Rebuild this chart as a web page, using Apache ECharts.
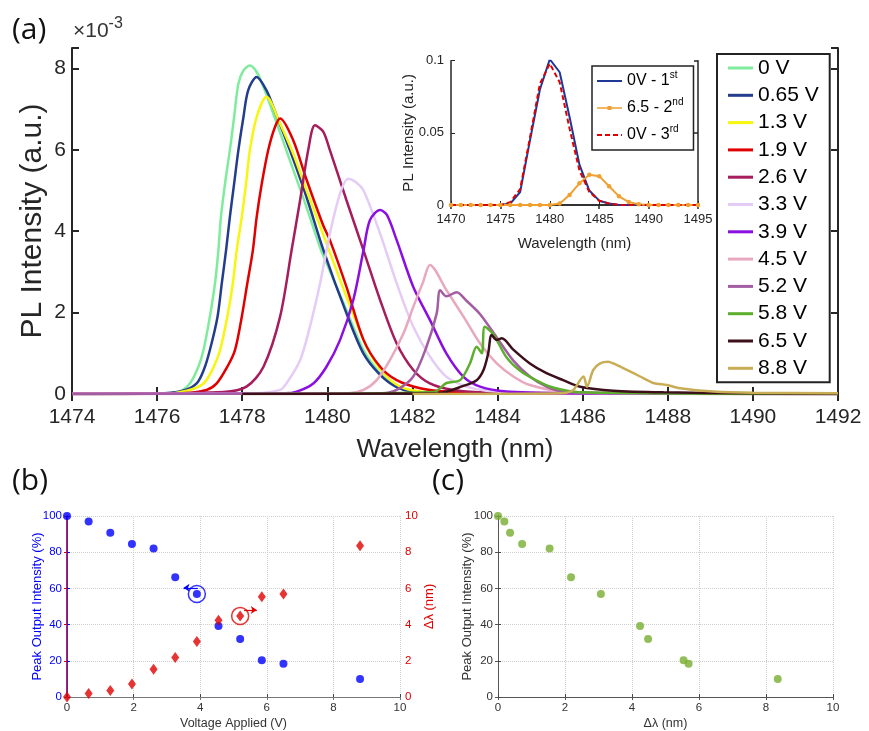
<!DOCTYPE html>
<html><head><meta charset="utf-8">
<script src="https://cdn.jsdelivr.net/npm/echarts@6/dist/echarts.min.js"></script>
<style>html,body{margin:0;padding:0;background:#fff}#c{width:869px;height:731px}</style>
</head><body><div id="c"></div>
<script>
// ---------- DATA ----------
// (a) main spectra: [wavelength (nm), PL intensity (x10^-3 a.u.)]
const voltageLabels = ['0 V','0.65 V','1.3 V','1.9 V','2.6 V','3.3 V','3.9 V','4.5 V','5.2 V','5.8 V','6.5 V','8.8 V'];
const pl_0V = [[1474,0],[1476,0.01],[1476.5,0.05],[1476.77,0.26],[1476.97,0.67],[1477.09,1.08],[1477.24,1.9],[1477.36,2.72],[1477.44,3.53],[1477.5,4.35],[1477.6,5.2],[1477.71,5.99],[1477.81,6.81],[1477.91,7.62],[1478.03,7.95],[1478.18,8.07],[1478.34,7.91],[1478.5,7.54],[1478.73,6.89],[1479.12,5.74],[1479.5,4.62],[1479.83,3.6],[1479.95,3.29],[1480.2,2.68],[1480.45,2.06],[1480.85,1.08],[1481.24,0.51],[1481.63,0.18],[1482.02,0.06],[1483,0.02],[1492,0]];
const pl_065V = [[1474,0],[1476,0.01],[1476.6,0.08],[1476.93,0.26],[1477.1,0.6],[1477.24,1.08],[1477.42,1.9],[1477.52,2.72],[1477.62,3.53],[1477.71,4.35],[1477.81,5.17],[1477.91,5.99],[1478.03,6.81],[1478.14,7.46],[1478.34,7.79],[1478.57,7.46],[1478.73,7.05],[1479.12,5.99],[1479.51,4.84],[1479.91,3.53],[1480.45,1.98],[1480.85,0.99],[1481.24,0.47],[1481.63,0.17],[1482.02,0.06],[1483,0.02],[1492,0]];
const pl_13V = [[1474,0],[1476.2,0.01],[1476.7,0.08],[1477.09,0.26],[1477.3,0.6],[1477.48,1.08],[1477.65,1.9],[1477.78,2.72],[1477.87,3.53],[1477.99,4.35],[1478.09,5.17],[1478.18,5.99],[1478.34,6.81],[1478.57,7.3],[1478.89,6.64],[1479.2,5.9],[1479.51,5.01],[1479.98,3.7],[1480.57,2.06],[1480.96,1.08],[1481.32,0.51],[1481.71,0.18],[1482.18,0.06],[1483,0.02],[1492,0]];
const pl_19V = [[1474,0],[1476.6,0.02],[1477.16,0.1],[1477.4,0.26],[1477.65,0.67],[1477.83,1.08],[1477.99,1.9],[1478.12,2.72],[1478.25,3.53],[1478.34,4.35],[1478.46,5.17],[1478.61,5.99],[1478.77,6.56],[1478.89,6.77],[1479.2,6.23],[1479.5,5.3],[1479.9,4.15],[1480.06,3.78],[1480.45,2.63],[1480.85,1.33],[1481.24,0.67],[1481.63,0.34],[1482.18,0.14],[1482.8,0.06],[1484,0.02],[1492,0]];
const pl_26V = [[1474,0],[1477.56,0.05],[1478.1,0.18],[1478.5,0.67],[1478.89,1.9],[1479.16,3.53],[1479.36,4.76],[1479.55,5.99],[1479.71,6.6],[1479.9,6.45],[1480.06,5.99],[1480.45,4.76],[1480.85,3.53],[1481.24,2.31],[1481.63,1.24],[1482.02,0.59],[1482.41,0.26],[1482.96,0.1],[1484,0.03],[1492,0]];
const pl_33V = [[1474,0],[1478.3,0.02],[1478.89,0.1],[1479.04,0.26],[1479.36,0.83],[1479.59,1.65],[1479.83,2.72],[1480.06,3.94],[1480.3,4.93],[1480.49,5.29],[1480.65,5.22],[1480.85,5.0],[1481.24,3.94],[1481.63,2.72],[1482.02,1.65],[1482.41,0.92],[1482.8,0.42],[1483.27,0.18],[1483.74,0.08],[1485,0.02],[1492,0]];
const pl_39V = [[1474,0],[1479.0,0.02],[1479.28,0.06],[1479.67,0.26],[1479.98,0.67],[1480.3,1.33],[1480.61,2.31],[1480.85,3.53],[1481.0,4.27],[1481.24,4.52],[1481.4,4.4],[1481.63,3.78],[1482.02,2.63],[1482.41,1.82],[1482.8,0.99],[1483.2,0.42],[1483.59,0.18],[1484.2,0.06],[1485.5,0.02],[1492,0]];
const pl_45V = [[1474,0],[1480.5,0.02],[1480.85,0.1],[1481.16,0.34],[1481.47,0.83],[1481.79,1.49],[1482.02,2.14],[1482.25,2.75],[1482.41,3.17],[1482.8,2.55],[1483.2,1.9],[1483.59,1.24],[1483.98,0.75],[1484.37,0.43],[1484.76,0.22],[1485.54,0.06],[1487,0.02],[1492,0]];
const pl_52V = [[1474,0],[1481.3,0.02],[1481.63,0.1],[1482.02,0.43],[1482.33,1.16],[1482.57,1.98],[1482.65,2.55],[1482.8,2.4],[1483.04,2.5],[1483.27,2.29],[1483.59,1.96],[1483.98,1.39],[1484.37,0.82],[1484.76,0.43],[1485.15,0.18],[1485.54,0.06],[1487,0.02],[1492,0]];
const pl_58V = [[1478,0],[1482.5,0.05],[1482.8,0.27],[1483.12,0.34],[1483.35,0.75],[1483.51,1.16],[1483.63,1.0],[1483.7,1.65],[1483.9,1.47],[1484.21,0.9],[1484.53,0.57],[1484.92,0.33],[1485.3,0.16],[1485.94,0.04],[1492,0]];
const pl_65V = [[1478,0],[1482.6,0.02],[1483.2,0.2],[1483.51,0.34],[1483.67,0.59],[1483.78,1.0],[1483.86,1.45],[1483.98,1.33],[1484.1,1.37],[1484.37,1.09],[1484.76,0.75],[1485.15,0.51],[1485.54,0.34],[1485.94,0.18],[1486.72,0.08],[1487.9,0.04],[1490,0.02],[1492,0.01]];
const pl_88V = [[1482,0],[1485.5,0.02],[1485.78,0.1],[1486.02,0.43],[1486.1,0.18],[1486.25,0.59],[1486.41,0.75],[1486.6,0.79],[1486.72,0.75],[1487.04,0.59],[1487.35,0.43],[1487.66,0.27],[1487.98,0.22],[1488.29,0.14],[1489.07,0.06],[1490,0.03],[1492,0.02]];

// (a) inset: PL intensity (a.u.) vs wavelength (nm)
const insetNames = ['0V - 1st','6.5 - 2nd','0V - 3rd'];
const insetWavelength = [1470,1471,1472,1473,1474,1475,1476,1477,1478,1479,1480,1481,1482,1483,1484,1485,1486,1487,1488,1489,1490,1491,1492,1493,1494,1495];
const inset_0V_1st = [0,0,0,0,0,0,0.001,0.009,0.045,0.08,0.101,0.092,0.061,0.028,0.01,0.003,0.001,0,0,0,0,0,0,0,0,0];
const inset_65_2nd = [0,0,0,0,0,0,0,0,0,0,0,0.001,0.007,0.015,0.021,0.02,0.013,0.006,0.002,0.0005,0,0,0,0,0,0];
const inset_0V_3rd = [0,0,0,0,0,0,0.002,0.011,0.047,0.084,0.098,0.085,0.053,0.024,0.009,0.003,0.001,0,0,0,0,0,0,0,0,0];

// (b), (c)
const voltageApplied = [0,0.65,1.3,1.95,2.6,3.25,3.9,4.55,5.2,5.85,6.5,8.8];
const peakOutput = [100,96.9,90.7,84.5,82.1,66.1,56.9,39.2,32.1,20.3,18.4,9.9];
const deltaLambda = [0,0.19,0.36,0.72,1.54,2.18,3.07,4.24,4.48,5.54,5.69,8.35];

// ---------- STYLE ----------
const FONT = 'Liberation Sans, Arial, Helvetica, sans-serif';
const mainColors = ['#7EEC9C','#243C8E','#F6F60E','#E00000','#A61C5C','#E4CCF6','#8A0FE0','#E8A8BF','#A35DA3','#5DAE2C','#3D0F1B','#C9AD55'];
const insetColors = ['#1F3796','#F0A030','#E00000'];
const insetIcons = [
  'path://M0,0M25,14M0,6H25V8H0Z',
  'path://M0,0M25,14M0,6.2H10.5V7.8H0ZM14.5,6.2H25V7.8H14.5ZM10.5,5H14.5V9H10.5Z',
  'path://M0,0M25,14M0,6H5V8H0ZM8,6H13V8H8ZM16,6H21V8H16ZM24,6H25V8H24Z'
];
const spectra = [pl_0V,pl_065V,pl_13V,pl_19V,pl_26V,pl_33V,pl_39V,pl_45V,pl_52V,pl_58V,pl_65V,pl_88V];
const BLUE = '#0000FF', RED = '#E00000', GREEN = '#77AC30', AX = '#262626';
const plain = v => String(v);

const zip = (a, b) => a.map((v, i) => [v, b[i]]);

const series = [];
voltageLabels.forEach((n, i) => {
  series.push({type:'line', name:n, xAxisIndex:0, yAxisIndex:0, data:spectra[i], showSymbol:false, symbol:'none',
    smooth:0.3, lineStyle:{width:2.5, color:mainColors[i]}, itemStyle:{color:mainColors[i]}, animation:false});
});
const insetData = [inset_0V_1st, inset_65_2nd, inset_0V_3rd];
insetNames.forEach((n, i) => {
  series.push({type:'line', name:n, xAxisIndex:2, yAxisIndex:2, data:zip(insetWavelength, insetData[i]),
    symbol: i === 1 ? 'circle' : 'none', showSymbol: i === 1, symbolSize:4.5,
    lineStyle:{width:2, color:insetColors[i], type: i === 2 ? [5,3] : 'solid'},
    itemStyle:{color:insetColors[i], borderWidth:0}, animation:false});
});
// (b)
series.push({type:'scatter', xAxisIndex:4, yAxisIndex:4, data:zip(voltageApplied, peakOutput), symbol:'circle', symbolSize:8,
  itemStyle:{color:BLUE}, animation:false});
series.push({type:'scatter', xAxisIndex:4, yAxisIndex:5, data:zip(voltageApplied, deltaLambda), symbol:'diamond', symbolSize:[8,11],
  itemStyle:{color:RED}, animation:false});
// annotation circles + arrows (b)
const bi = 6, ri = 8;
series.push({type:'scatter', xAxisIndex:4, yAxisIndex:4, data:[[voltageApplied[bi], peakOutput[bi]]], symbol:'circle', symbolSize:17,
  itemStyle:{color:'rgba(0,0,0,0)', borderColor:BLUE, borderWidth:1.5}, silent:true, animation:false,
  markLine:{silent:true, symbol:['none','arrow'], symbolSize:6, label:{show:false}, animation:false,
    lineStyle:{color:BLUE, width:1.2, type:'solid'},
    data:[[{coord:[voltageApplied[bi]+0.03, peakOutput[bi]+3.4]},{coord:[voltageApplied[bi]-0.4, peakOutput[bi]+3.4]}]]}});
series.push({type:'scatter', xAxisIndex:4, yAxisIndex:5, data:[[voltageApplied[ri], deltaLambda[ri]]], symbol:'circle', symbolSize:17,
  itemStyle:{color:'rgba(0,0,0,0)', borderColor:RED, borderWidth:1.5}, silent:true, animation:false,
  markLine:{silent:true, symbol:['none','arrow'], symbolSize:6, label:{show:false}, animation:false,
    lineStyle:{color:RED, width:1.2, type:'solid'},
    data:[[{coord:[voltageApplied[ri]+0.12, deltaLambda[ri]+0.32]},{coord:[voltageApplied[ri]+0.5, deltaLambda[ri]+0.32]}]]}});
// (c)
series.push({type:'scatter', xAxisIndex:6, yAxisIndex:6, data:zip(deltaLambda, peakOutput), symbol:'circle', symbolSize:8,
  itemStyle:{color:GREEN}, animation:false});

function mirrorX(grid, min, max, interval, color, w, tl) {
  return {type:'value', gridIndex:grid, position:'top', min, max, interval,
    axisLine:{show:true, lineStyle:{color, width:w}}, axisTick:{show:true, inside:true, length:tl, lineStyle:{color, width:w}},
    axisLabel:{show:false}, splitLine:{show:false}};
}
function mirrorY(grid, min, max, interval, color, w, tl) {
  return {type:'value', gridIndex:grid, position:'right', min, max, interval,
    axisLine:{show:true, lineStyle:{color, width:w}}, axisTick:{show:true, inside:true, length:tl, lineStyle:{color, width:w}},
    axisLabel:{show:false}, splitLine:{show:false}};
}
const dotted = {show:true, lineStyle:{type:'dotted', color:'#cfcfcf', width:1}};
const superRich = {b:{fontSize:16, lineHeight:21, color:'#000', fontFamily:FONT}, s:{fontSize:10, lineHeight:10, verticalAlign:'top', color:'#000', fontFamily:FONT}};

const option = {
  animation:false,
  backgroundColor:'#fff',
  title:[
    {text:'{a|×10}{b|-3}', left:73, top:16, padding:0, textStyle:{fontWeight:'normal', rich:{
      a:{fontSize:21, lineHeight:26, color:'#333', fontWeight:'normal', fontFamily:FONT, verticalAlign:'bottom'},
      b:{fontSize:16, lineHeight:10, color:'#333', fontWeight:'normal', fontFamily:FONT, verticalAlign:'top'}}}},
    {text:'(a)', left:12, top:15, padding:0, textStyle:{fontSize:30, fontWeight:'normal', color:'#111', fontFamily:'Open Sans'}},
    {text:'(b)', left:12, top:466, padding:0, textStyle:{fontSize:30, fontWeight:'normal', color:'#111', fontFamily:'Open Sans'}},
    {text:'(c)', left:432, top:466, padding:0, textStyle:{fontSize:30, fontWeight:'normal', color:'#111', fontFamily:'Open Sans'}}
  ],
  legend:[
    {data:voltageLabels, orient:'vertical', left:717, top:54, padding:[3.5,11,3.5,11], itemGap:6.3,
      itemWidth:25, itemHeight:3, icon:'rect', selectedMode:false,
      textStyle:{fontSize:21, lineHeight:21, color:'#000', fontFamily:FONT},
      borderColor:'#222', borderWidth:2, backgroundColor:'#fff'},
    {data:insetNames.map((n, i) => ({name:n, icon:insetIcons[i]})), orient:'vertical', left:592, top:66, padding:[4.5,10,4.5,5], itemGap:6,
      itemWidth:25, itemHeight:14, selectedMode:false,
      formatter: n => { const m = n.match(/^(.*\d)(st|nd|rd)$/); return m ? '{b|' + m[1] + '}{s|' + m[2] + '}' : n; },
      textStyle:{fontSize:16, lineHeight:21, color:'#000', fontFamily:FONT, rich:superRich},
      borderColor:'#222', borderWidth:1.5, backgroundColor:'#fff'}
  ],
  grid:[
    {left:72, top:48, width:766, height:346},
    {left:451, top:60.7, width:247, height:144.3},
    {left:67, top:516, width:333, height:182},
    {left:498, top:516, width:335, height:182}
  ],
  xAxis:[
    {type:'value', gridIndex:0, min:1474, max:1492, interval:2, name:'Wavelength (nm)', nameLocation:'middle', nameGap:43, nameMoveOverlap:false,
      nameTextStyle:{fontSize:26, color:AX, fontFamily:FONT},
      axisLine:{lineStyle:{color:AX, width:2}}, axisTick:{inside:true, length:7, lineStyle:{color:AX, width:2}},
      axisLabel:{fontSize:21, color:AX, margin:13, fontFamily:FONT, formatter:plain}, splitLine:{show:false}},
    mirrorX(0, 1474, 1492, 2, AX, 2, 7),
    {type:'value', gridIndex:1, min:1470, max:1495, interval:5, name:'Wavelength (nm)', nameLocation:'middle', nameGap:31, nameMoveOverlap:false,
      nameTextStyle:{fontSize:15, color:AX, fontFamily:FONT},
      axisLine:{lineStyle:{color:AX, width:1.5}}, axisTick:{inside:true, length:4, lineStyle:{color:AX}},
      axisLabel:{fontSize:13, color:AX, margin:8, fontFamily:FONT, formatter:plain}, splitLine:{show:false}},
    mirrorX(1, 1470, 1495, 5, AX, 1.5, 4),
    {type:'value', gridIndex:2, min:0, max:10, interval:2, name:'Voltage Applied (V)', nameLocation:'middle', nameGap:20, nameMoveOverlap:false,
      nameTextStyle:{fontSize:12.5, color:'#333', fontFamily:FONT},
      axisLine:{lineStyle:{color:'#444', width:1}}, axisTick:{inside:true, length:3, lineStyle:{color:'#444'}},
      axisLabel:{fontSize:11.5, color:'#333', margin:5, fontFamily:FONT}, splitLine:dotted},
    mirrorX(2, 0, 10, 2, '#777', 1, 3),
    {type:'value', gridIndex:3, min:0, max:10, interval:2, name:'Δλ (nm)', nameLocation:'middle', nameGap:20, nameMoveOverlap:false,
      nameTextStyle:{fontSize:12.5, color:'#333', fontFamily:FONT},
      axisLine:{lineStyle:{color:'#444', width:1}}, axisTick:{inside:true, length:3, lineStyle:{color:'#444'}},
      axisLabel:{fontSize:11.5, color:'#333', margin:5, fontFamily:FONT}, splitLine:dotted},
    mirrorX(3, 0, 10, 2, '#555', 1, 3)
  ],
  yAxis:[
    {type:'value', gridIndex:0, min:0, max:8.5, interval:2, name:'PL Intensity (a.u.)', nameLocation:'middle', nameGap:24, nameRotate:90, nameMoveOverlap:false,
      nameTextStyle:{fontSize:30, color:AX, fontFamily:FONT},
      axisLine:{lineStyle:{color:AX, width:2}}, axisTick:{inside:true, length:7, lineStyle:{color:AX, width:2}},
      axisLabel:{fontSize:21, color:AX, margin:6, fontFamily:FONT, formatter: v => (Math.abs(v % 2) < 1e-9 ? String(v) : '')},
      splitLine:{show:false}},
    mirrorY(0, 0, 8.5, 2, AX, 2, 7),
    {type:'value', gridIndex:1, min:0, max:0.1, interval:0.05, name:'PL Intensity (a.u.)', nameLocation:'middle', nameGap:35, nameRotate:90, nameMoveOverlap:false,
      nameTextStyle:{fontSize:15, color:AX, fontFamily:FONT},
      axisLine:{lineStyle:{color:AX, width:1.5}}, axisTick:{inside:true, length:4, lineStyle:{color:AX}},
      axisLabel:{fontSize:13, color:AX, margin:7, fontFamily:FONT}, splitLine:{show:false}},
    mirrorY(1, 0, 0.1, 0.05, AX, 1.5, 4),
    {type:'value', gridIndex:2, min:0, max:100, interval:20, name:'Peak Output Intensity (%)', nameLocation:'middle', nameGap:23.5, nameRotate:90, nameMoveOverlap:false,
      nameTextStyle:{fontSize:13, color:BLUE, fontFamily:FONT},
      axisLine:{lineStyle:{color:BLUE, width:1.5}}, axisTick:{inside:true, length:3, lineStyle:{color:BLUE}},
      axisLabel:{fontSize:11.5, color:BLUE, margin:5, fontFamily:FONT}, splitLine:dotted},
    {type:'value', gridIndex:2, position:'right', min:0, max:10, interval:2, name:'Δλ (nm)', nameLocation:'middle', nameGap:23, nameRotate:90, nameMoveOverlap:false,
      nameTextStyle:{fontSize:13, color:RED, fontFamily:FONT},
      axisLine:{show:true, lineStyle:{color:RED, width:1}}, axisTick:{show:true, inside:true, length:3, lineStyle:{color:RED}},
      axisLabel:{fontSize:11.5, color:RED, margin:5, fontFamily:FONT}, splitLine:{show:false}},
    {type:'value', gridIndex:3, min:0, max:100, interval:20, name:'Peak Output Intensity (%)', nameLocation:'middle', nameGap:24.5, nameRotate:90, nameMoveOverlap:false,
      nameTextStyle:{fontSize:13, color:'#333', fontFamily:FONT},
      axisLine:{lineStyle:{color:'#444', width:1}}, axisTick:{inside:true, length:3, lineStyle:{color:'#444'}},
      axisLabel:{fontSize:11.5, color:'#333', margin:5, fontFamily:FONT}, splitLine:dotted},
    mirrorY(3, 0, 100, 20, '#555', 1, 3)
  ],
  series
};
const chart = echarts.init(document.getElementById('c'), null, {renderer:'canvas'});
chart.setOption(option);
</script>
</body></html>
